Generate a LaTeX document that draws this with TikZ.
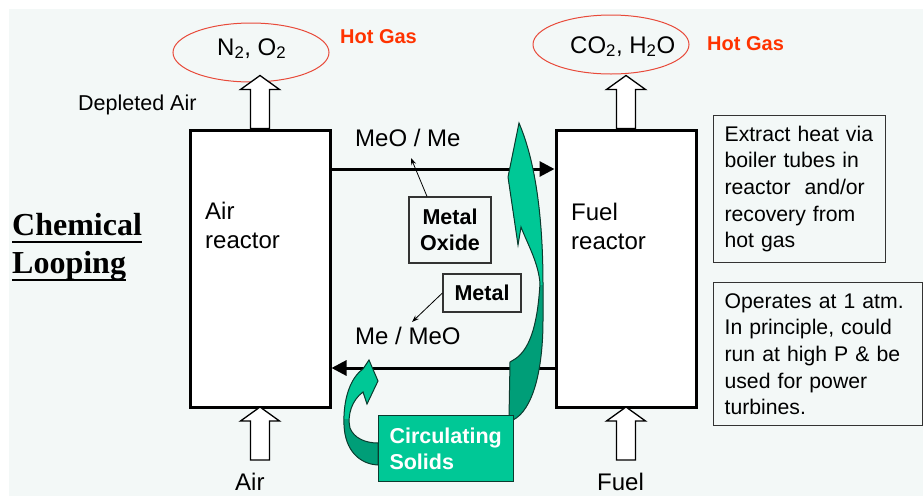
\documentclass[tikz,border=0pt]{standalone}
\usepackage{fontspec}
\setmainfont{Liberation Sans}
\newfontfamily\titlefont{Liberation Serif}
\usetikzlibrary{arrows.meta,shapes.geometric,calc}
\definecolor{bgc}{HTML}{F3F8F7}
\definecolor{hot}{HTML}{FF3300}
\definecolor{ell}{HTML}{E84A3A}
\definecolor{glight}{HTML}{00C896}
\definecolor{gdark}{HTML}{009E78}
\definecolor{gline}{HTML}{0B3B2E}
\tikzset{
  reactor/.style={draw,line width=3pt,fill=white,minimum width=140pt,minimum height=277pt,inner sep=0pt},
  blockarr/.style={draw,line width=1.3pt,fill=white},
  flow/.style={line width=3pt,-{Triangle[length=15pt,width=15pt]}},
  gas/.style={ellipse,draw=ell,line width=1pt,minimum width=156pt,minimum height=59pt,inner sep=0pt},
  lbl/.style={font=\fontsize{24}{29}\selectfont,inner sep=0pt},
  smalllbl/.style={font=\fontsize{21.5}{26}\selectfont,inner sep=0pt},
  hotlbl/.style={font=\fontsize{20}{24}\selectfont\bfseries,text=hot,inner sep=0pt},
  note/.style={draw=black!80,line width=1.2pt,align=left,font=\fontsize{21.2}{26.7}\selectfont,inner xsep=11pt,inner ysep=0pt,anchor=north west},
  tag/.style={draw=black!80,line width=1.2pt,align=center,font=\fontsize{21.5}{26.5}\selectfont\bfseries,inner sep=0pt},
  pointer/.style={line width=0.8pt,-{Stealth[length=7pt,width=5pt]}},
  titletext/.style={anchor=base west,inner sep=0pt,font=\titlefont\bfseries\fontsize{32}{38}\selectfont},
  uline/.style={line width=2.5pt},
  greenline/.style={draw=gline,line width=1pt},
  uparr/.pic={\draw[blockarr] (-9.5,0) -- (-9.5,-39) -- (-19.5,-39) -- (0,-53) -- (19.5,-39) -- (9.5,-39) -- (9.5,0) -- cycle;}
}
\def\bigarrowpath{(519,123) -- (508,177) -- (518,245) -- (521,227) .. controls (528,245) and (538,262) .. (540,283) .. controls (538,318) and (532,348) .. (515,359) -- (510,362) -- (509,418) -- (513,420) .. controls (533,410) and (543,370) .. (543,320) -- (543,285) .. controls (543,225) and (537,165) .. (519,123) -- cycle}
\def\smallarrowpath{(369,360) -- (378,381) -- (367,404) -- (363,392) .. controls (352,400) and (347,415) .. (350,428) .. controls (354,438) and (365,443) .. (378,443) -- (378,465) .. controls (359,464) and (345,450) .. (344,425) .. controls (343,400) and (350,378) .. (363,369) -- cycle}
\begin{document}
\begin{tikzpicture}[x=1pt,y=-1pt]
\useasboundingbox (0,0) rectangle (923,496);
\fill[white] (0,0) rectangle (923,496);
\fill[bgc] (9,9) rectangle (923,496);

% gas ellipses
\node[gas] (g1) at (251,52.5) {};
\node[gas] (g2) at (611,44.5) {};
\node[lbl,anchor=base west] (t1) at (217,55) {N\textsubscript{2}, O\textsubscript{2}};
\node[lbl,anchor=base west] (t2) at (570,53) {CO\textsubscript{2}, H\textsubscript{2}O};
\node[hotlbl,anchor=base west] (h1) at (340,43) {Hot Gas};
\node[hotlbl,anchor=base west] (h2) at (707,50) {Hot Gas};
\node[smalllbl,anchor=base west] (dep) at (78,110) {Depleted Air};

% reactors
\node[reactor] (air) at (260,268.5) {};
\node[reactor] (fuel) at (626,268.5) {};
\node[lbl,anchor=north west,align=left] (airt) at (205,202) {Air\\reactor};
\node[lbl,anchor=north west,align=left] (fuelt) at (571,203) {Fuel\\reactor};

% block arrows
\pic at (air.north) {uparr};
\pic at (fuel.north) {uparr};
\pic at (260,460) {uparr};
\pic at (626,460) {uparr};
\node[lbl,anchor=base west] (airin) at (235,490) {Air};
\node[lbl,anchor=base west] (fuelin) at (597,490) {Fuel};

% flows
\draw[flow] (air.east |- 0,169) -- (fuel.west |- 0,169);
\draw[flow] (fuel.west |- 0,368) -- (air.east |- 0,368);
\node[lbl,anchor=base west] (meo) at (355,146) {MeO / Me};
\node[lbl,anchor=base west] (mem) at (355,344) {Me / MeO};

% tags
\node[tag,minimum width=82pt,minimum height=66pt] (mo) at (450,230) {Metal\\Oxide};
\node[tag,minimum width=78pt,minimum height=38pt] (me) at (482,293) {Metal};
\coordinate (pa) at (411,158);
\coordinate (pb) at (412,322);
\draw[pointer] (mo.north -| 427,0) -- (pa);
\draw[pointer] (me.west) -- (pb);

% green curved arrows
\fill[gdark] \bigarrowpath;
\begin{scope}
  \clip (0,0) rectangle (923,284);
  \fill[glight] \bigarrowpath;
\end{scope}
\draw[greenline] \bigarrowpath;
\fill[gdark] \smallarrowpath;
\begin{scope}
  \clip (0,0) rectangle (923,418);
  \fill[glight] \smallarrowpath;
\end{scope}
\draw[greenline] \smallarrowpath;

\node[draw=gline,line width=1pt,fill=glight,text=white,font=\fontsize{21.5}{26}\selectfont\bfseries,align=left,anchor=north west,text width=113pt,inner xsep=11pt,inner ysep=12pt] (cs) at (378,415) {Circulating\\Solids};

% notes
\node[note,text width=150pt,minimum height=147pt] (n1) at (713,115) {Extract heat via\\boiler tubes in\\reactor\ \ and/or\\recovery from\\hot gas};
\node[note,text width=187pt,minimum height=143pt] (n2) at (713,282) {Operates at 1 atm.\\In principle, could\\run at high P \& be\\used for power\\turbines.};

% title
\node[titletext] (c1) at (12,235) {Chemical};
\node[titletext] (c2) at (12,273) {Looping};
\draw[uline] ([yshift=-7pt]c1.base west) -- ([yshift=-7pt]c1.base east);
\draw[uline] ([yshift=-7pt]c2.base west) -- ([yshift=-7pt]c2.base east);
\end{tikzpicture}
\end{document}
